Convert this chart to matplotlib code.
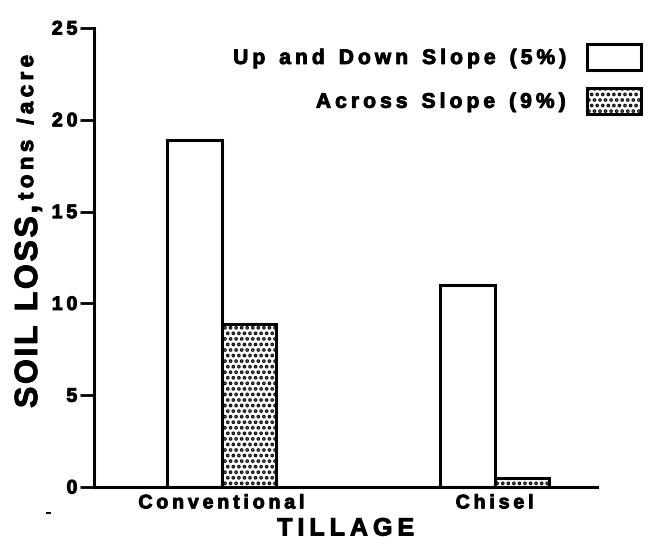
import matplotlib.pyplot as plt
import matplotlib.patheffects as pe
import numpy as np

plt.rcParams['font.family'] = ['Liberation Sans', 'DejaVu Sans']
plt.rcParams['font.weight'] = 'bold'
plt.rcParams['hatch.linewidth'] = 1.8

tillage = ['Conventional', 'Chisel']
up_down = [18.9, 11.0]
across = [8.9, 0.5]
series_labels = ['Up and Down Slope (5%)', 'Across Slope (9%)']


def track(s, sp='\u2009'):
    # wide letter spacing like the old typeset figure
    return sp.join(s)


fig = plt.figure(figsize=(6.48, 5.52), dpi=100)
ax = fig.add_axes([94/648, 1 - 487/552, (597-94)/648, (487-28)/552])

x = np.arange(len(tillage))
w = 0.2
ax.bar(x - w/2, up_down, w, color='white', edgecolor='black', linewidth=2.2,
       label=track(series_labels[0]))
ax.bar(x + w/2, across, w, color='white', edgecolor='black', linewidth=2.2,
       hatch='...', label=track(series_labels[1]))

ax.set_xlim(-0.467, 1.375)
ax.set_ylim(0, 25)
yt = list(range(0, 26, 5))
ax.set_yticks(yt)
ax.set_yticklabels([track(str(v)) for v in yt], fontsize=14, fontweight='bold')
ax.set_xticks(x)
ax.set_xticklabels([track(t) for t in tillage], fontsize=14, fontweight='bold')
ax.tick_params(axis='x', length=0, pad=6)
ax.tick_params(axis='y', length=10, width=2, pad=2)
for s in ['top', 'right']:
    ax.spines[s].set_visible(False)
ax.spines['left'].set_linewidth(2.2)
ax.spines['bottom'].set_linewidth(2.2)

ax.set_xlabel(track('TILLAGE'), fontsize=18, fontweight='bold', labelpad=3)

fig.text(37/648, 1 - 408/552, track('SOIL LOSS,', '\u200a'), rotation=90,
         rotation_mode='anchor', ha='left', va='baseline', fontsize=23, fontweight='bold')
fig.text(33/648, 1 - 200/552, track('tons /acre'), rotation=90, rotation_mode='anchor',
         ha='left', va='baseline', fontsize=16, fontweight='bold')
fig.text(48/648, 1 - 512/552, '-', fontsize=10, ha='center', va='center')

leg = ax.legend(loc='upper right', bbox_to_anchor=(641/648, 1 - 44/552),
                bbox_transform=fig.transFigure, frameon=False, markerfirst=False,
                prop={'size': 15, 'weight': 'bold'}, handlelength=2.6, handleheight=1.55,
                labelspacing=0.85, handletextpad=1.0, borderpad=0, borderaxespad=0)

# heavier strokes, the scanned type is very black
heavy = [pe.withStroke(linewidth=0.7, foreground='black')]
for t in (ax.get_xticklabels() + ax.get_yticklabels() + [ax.xaxis.label]
          + fig.texts + leg.get_texts()):
    t.set_path_effects(heavy)

fig.savefig('out.png', dpi=100)
